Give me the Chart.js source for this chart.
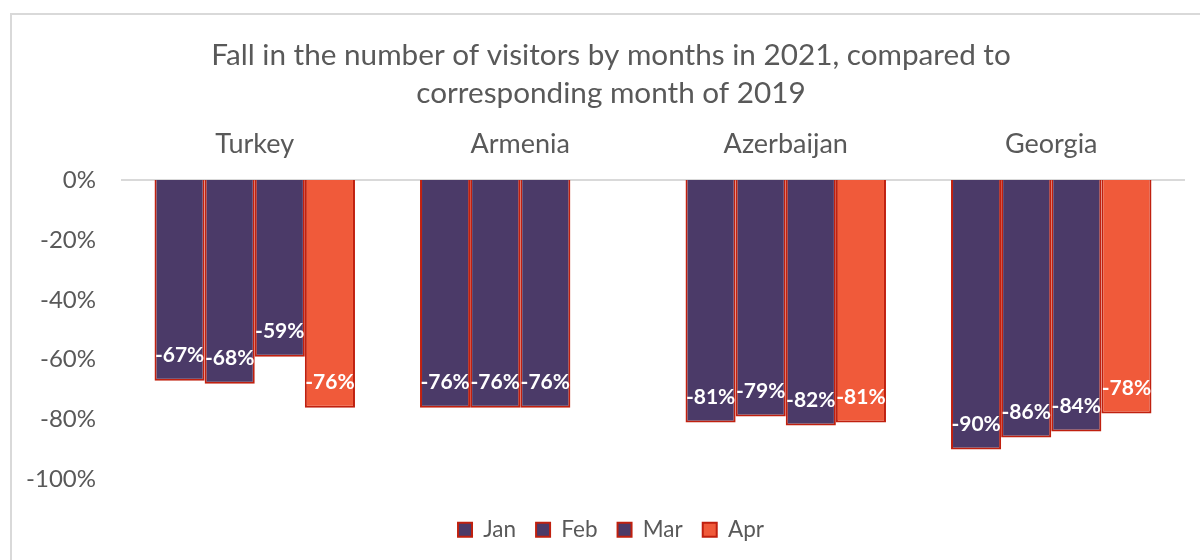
<!DOCTYPE html>
<html>
<head>
<meta charset="utf-8">
<script src="https://cdn.jsdelivr.net/npm/chart.js@4/dist/chart.umd.min.js"></script>
<style>
  body { margin: 0; background: #fff; }
  #wrap { width: 1200px; height: 560px; }
</style>
</head>
<body>
<div id="wrap"><canvas id="fallChart"></canvas></div>
<script>
// Data for the chart
const countries = ['Turkey', 'Armenia', 'Azerbaijan', 'Georgia'];
const janValues = [-67, -76, -81, -90];
const febValues = [-68, -76, -79, -86];
const marValues = [-59, -76, -82, -84];
const aprValues = [-76, null, -81, -78]; // no April figure for Armenia
const yTicks = [0, -20, -40, -60, -80, -100];

const purple = '#4B3A68';
const orange = '#F05A3A';
const edge = '#C0200F';
const textGrey = '#595959';
const fontName = 'Lato, "Open Sans", sans-serif';

// white labels just inside the end of each bar
const barLabels = {
    id: 'barLabels',
    afterDatasetsDraw(chart) {
        const c = chart.ctx;
        c.save();
        c.fillStyle = '#fff';
        c.font = 'bold 21px ' + fontName;
        c.textAlign = 'center';
        c.textBaseline = 'middle';
        chart.data.datasets.forEach((ds, i) => {
            chart.getDatasetMeta(i).data.forEach((bar, j) => {
                const v = ds.data[j];
                if (v === null) return;
                c.fillText(v + '%', bar.x, bar.y - 25);
            });
        });
        c.restore();
    }
};

// light frame round the chart, like the Excel chart area
const frame = {
    id: 'frame',
    beforeDraw(chart) {
        const c = chart.ctx;
        c.save();
        c.strokeStyle = '#D9D9D9';
        c.lineWidth = 2;
        c.strokeRect(11, 14, 1210, 580);
        c.restore();
    }
};

const mkSet = (label, values, color) => ({
    label: label,
    data: values,
    backgroundColor: color,
    borderColor: edge,
    borderWidth: 2,
    categoryPercentage: 0.755,
    barPercentage: 1.0
});

const ctx = document.getElementById('fallChart').getContext('2d');
const fallChart = new Chart(ctx, {
    type: 'bar',
    data: {
        labels: countries,
        datasets: [
            mkSet('Jan', janValues, purple),
            mkSet('Feb', febValues, purple),
            mkSet('Mar', marValues, purple),
            mkSet('Apr', aprValues, orange)
        ]
    },
    options: {
        responsive: true,
        maintainAspectRatio: false,
        animation: false,
        layout: { padding: { top: 36, right: 16, bottom: 9, left: 38 } },
        plugins: {
            title: {
                display: true,
                text: ['Fall in the number of visitors by months in 2021, compared to',
                       'corresponding month of 2019'],
                color: textGrey,
                font: { family: fontName, size: 29.7, weight: 'normal', lineHeight: 1.28 },
                padding: { top: 0, bottom: 0 }
            },
            legend: {
                position: 'bottom',
                // blank legend title only used as a spacer above the items
                title: {
                    display: true,
                    text: ' ',
                    font: { size: 10, lineHeight: 1 },
                    padding: { top: 9, bottom: 0 }
                },
                labels: {
                    color: textGrey,
                    font: { family: fontName, size: 22.5 },
                    boxWidth: 14,
                    boxHeight: 14,
                    padding: 20
                }
            },
            tooltip: { enabled: false }
        },
        scales: {
            x: {
                position: 'top',
                grid: { display: false, drawTicks: false },
                border: { display: true, color: '#D9D9D9', width: 2 },
                ticks: {
                    color: textGrey,
                    font: { family: fontName, size: 27 },
                    padding: 20
                },
                afterFit(scale) { scale.height = 68; }
            },
            y: {
                min: -100,
                max: 0,
                grid: { display: false, drawTicks: false },
                border: { display: false },
                afterBuildTicks(scale) { scale.ticks = yTicks.map(v => ({ value: v })); },
                ticks: {
                    color: textGrey,
                    font: { family: fontName, size: 24 },
                    padding: 26,
                    callback: v => v + '%'
                },
                afterFit(scale) {
                    scale.width = 84;
                    // let "-100%" spill into the left padding instead of being clipped
                    scale._computeLabelArea = () => undefined;
                }
            }
        }
    },
    plugins: [frame, barLabels]
});
</script>
</body>
</html>
